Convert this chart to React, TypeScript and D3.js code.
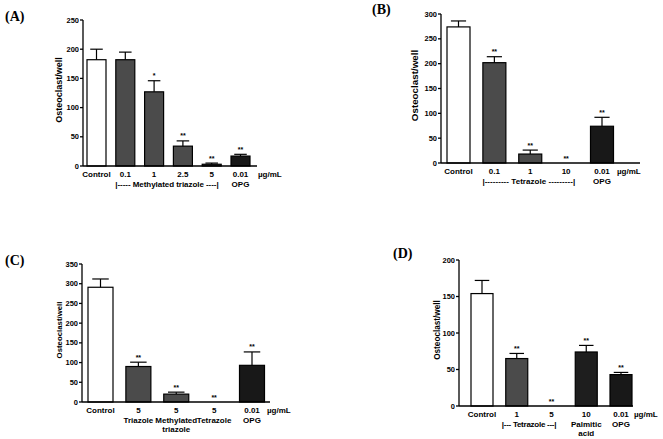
import React from 'react';
import * as d3 from 'd3';

// Four bar panels of osteoclast counts per well (mean + SEM, ** significance).

const catsA = ['Control', '0.1', '1', '2.5', '5', '0.01'];
const meanA = [182, 182, 127, 34, 3, 17];
const semA = [18, 13, 19, 9, 2, 3];
const sigA = ['', '', '*', '**', '**', '**'];
const groupA = ['control', 'drug', 'drug', 'drug', 'drug', 'opg'];
const subA = ['', '', '', '', '', 'OPG'];
const ticksA = [0, 50, 100, 150, 200, 250];

const catsB = ['Control', '0.1', '1', '10', '0.01'];
const meanB = [274, 202, 18, 0, 74];
const semB = [12, 12, 8, 0, 18];
const sigB = ['', '**', '**', '**', '**'];
const groupB = ['control', 'drug', 'drug', 'drug', 'opg'];
const subB = ['', '', '', '', 'OPG'];
const ticksB = [0, 50, 100, 150, 200, 250, 300];

const catsC = ['Control', 'Triazole', 'Methylated triazole', 'Tetrazole', 'OPG'];
const doseC = ['Control', '5', '5', '5', '0.01'];
const meanC = [291, 90, 20, 0, 93];
const semC = [21, 11, 5, 0, 34];
const sigC = ['', '**', '**', '**', '**'];
const groupC = ['control', 'drug', 'drug', 'drug', 'opg'];
const subC = ['', 'Triazole', 'Methylated', 'Tetrazole', 'OPG'];
const sub2C = ['', '', 'triazole', '', ''];
const ticksC = [0, 50, 100, 150, 200, 250, 300, 350];

const catsD = ['Control', '1', '5', '10', '0.01'];
const meanD = [154, 65, 0, 74, 43];
const semD = [18, 7, 0, 9, 3];
const sigD = ['', '**', '**', '**', '**'];
const groupD = ['control', 'drug', 'drug', 'palmitic', 'opg'];
const subD = ['', '', '', 'Palmitic', 'OPG'];
const sub2D = ['', '', '', 'acid', ''];
const ticksD = [0, 50, 100, 150, 200];

const fillScale = d3
  .scaleOrdinal<string, string>()
  .domain(['control', 'drug', 'palmitic', 'opg'])
  .range(['#ffffff', '#4b4b4b', '#1e1e1e', '#181818']);

const SANS = 'Liberation Sans, Arial, Helvetica, sans-serif';

type PanelProps = {
  tag: string;
  tagX: number;
  tagY: number;
  cats: string[];
  labels: string[];
  sub: string[];
  sub2?: string[];
  mean: number[];
  sem: number[];
  sig: string[];
  group: string[];
  ticks: number[];
  axisX: number;
  y0: number;
  yTop: number;
  firstX: number;
  lastX: number;
  xEnd: number;
  bw: number;
  unitX: number;
  yLabelX: number;
  yLabelSize: number;
  bracket?: { from: string; to: string; text: string; padL: number; padR: number };
};

function Panel(p: PanelProps) {
  const x = d3.scalePoint<string>().domain(p.cats).range([p.firstX, p.lastX]);
  const yMax = p.ticks[p.ticks.length - 1];
  const y = d3.scaleLinear().domain([0, yMax]).range([p.y0, p.yTop]);
  const line1 = p.y0 + 10.5;
  const cap = p.bw * 0.33;
  return (
    <g>
      <text x={p.tagX} y={p.tagY} fontFamily="Liberation Serif, Times New Roman, serif" fontWeight="bold" fontSize={14}>
        {p.tag}
      </text>
      {p.cats.map((c, i) => {
        const cx = x(c) as number;
        const top = y(p.mean[i]);
        const et = y(p.mean[i] + p.sem[i]);
        return (
          <g key={c}>
            {p.mean[i] > 0 ? (
              <rect
                x={cx - p.bw / 2}
                y={top}
                width={p.bw}
                height={p.y0 - top}
                fill={fillScale(p.group[i])}
                stroke="#000"
                strokeWidth={1.2}
              />
            ) : null}
            {p.sem[i] > 0 ? (
              <g stroke="#000" strokeWidth={1.2}>
                <line x1={cx} x2={cx} y1={top} y2={et} />
                <line x1={cx - cap} x2={cx + cap} y1={et} y2={et} />
              </g>
            ) : null}
            {p.sig[i] ? (
              <text x={cx} y={et - 2.5} textAnchor="middle" fontFamily={SANS} fontWeight="bold" fontSize={7}>
                {p.sig[i]}
              </text>
            ) : null}
          </g>
        );
      })}
      <g stroke="#000" strokeWidth={1.3}>
        <line x1={p.axisX} x2={p.axisX} y1={p.yTop} y2={p.y0} />
        <line x1={p.axisX} x2={p.xEnd} y1={p.y0} y2={p.y0} />
        {p.ticks.map((t) => (
          <line key={t} x1={p.axisX - 3} x2={p.axisX} y1={y(t)} y2={y(t)} />
        ))}
      </g>
      <g fontFamily={SANS} fontWeight="bold" fontSize={7.5}>
        {p.ticks.map((t) => (
          <text key={t} x={p.axisX - 4} y={y(t) + 2.6} textAnchor="end">
            {t}
          </text>
        ))}
      </g>
      <text
        transform={`translate(${p.yLabelX},${(p.y0 + p.yTop) / 2 - 3}) rotate(-90)`}
        textAnchor="middle"
        fontFamily={SANS}
        fontWeight="bold"
        fontSize={p.yLabelSize}
      >
        Osteoclast/well
      </text>
      <g fontFamily={SANS} fontWeight="bold" fontSize={8}>
        {p.cats.map((c, i) => (
          <g key={c}>
            <text x={x(c)} y={line1} textAnchor="middle">
              {p.labels[i]}
            </text>
            {p.sub[i] ? (
              <text x={x(c)} y={line1 + 10} textAnchor="middle">
                {p.sub[i]}
              </text>
            ) : null}
            {p.sub2 && p.sub2[i] ? (
              <text x={x(c)} y={line1 + 19} textAnchor="middle">
                {p.sub2[i]}
              </text>
            ) : null}
          </g>
        ))}
        <text x={p.unitX} y={line1}>
          µg/mL
        </text>
        {p.bracket ? (
          <text
            x={(x(p.bracket.from) as number) - p.bracket.padL}
            y={line1 + 10}
            textLength={(x(p.bracket.to) as number) - (x(p.bracket.from) as number) + p.bracket.padL + p.bracket.padR}
          >
            {p.bracket.text}
          </text>
        ) : null}
      </g>
    </g>
  );
}

export default function App() {
  return (
    <svg
      width={663}
      height={439}
      style={{ position: 'absolute', left: 0, top: 0, background: '#fff' }}
    >
      <Panel
        tag="(A)" tagX={5} tagY={21}
        cats={catsA} labels={catsA} sub={subA} mean={meanA} sem={semA} sig={sigA} group={groupA}
        ticks={ticksA} axisX={83} y0={166} yTop={20} firstX={96.5} lastX={240.5} xEnd={257} bw={19}
        unitX={258} yLabelX={62} yLabelSize={9}
        bracket={{ from: '0.1', to: '5', text: '|----- Methylated triazole ----|', padL: 10, padR: 7 }}
      />
      <Panel
        tag="(B)" tagX={372} tagY={14}
        cats={catsB} labels={catsB} sub={subB} mean={meanB} sem={semB} sig={sigB} group={groupB}
        ticks={ticksB} axisX={441} y0={163} yTop={14} firstX={458.5} lastX={602} xEnd={640} bw={23}
        unitX={617} yLabelX={418} yLabelSize={9.8}
        bracket={{ from: '0.1', to: '10', text: '|--------- Tetrazole ---------|', padL: 12, padR: 9 }}
      />
      <Panel
        tag="(C)" tagX={5} tagY={265}
        cats={catsC} labels={doseC} sub={subC} sub2={sub2C} mean={meanC} sem={semC} sig={sigC} group={groupC}
        ticks={ticksC} axisX={82} y0={402} yTop={264} firstX={100.5} lastX={252} xEnd={270} bw={25}
        unitX={267} yLabelX={62} yLabelSize={7.8}
      />
      <Panel
        tag="(D)" tagX={393} tagY={258}
        cats={catsD} labels={catsD} sub={subD} sub2={sub2D} mean={meanD} sem={semD} sig={sigD} group={groupD}
        ticks={ticksD} axisX={459} y0={406} yTop={260} firstX={482} lastX={621} xEnd={633} bw={22}
        unitX={634} yLabelX={440} yLabelSize={8.2}
        bracket={{ from: '1', to: '5', text: '|--- Tetrazole ---|', padL: 15, padR: 5 }}
      />
    </svg>
  );
}
